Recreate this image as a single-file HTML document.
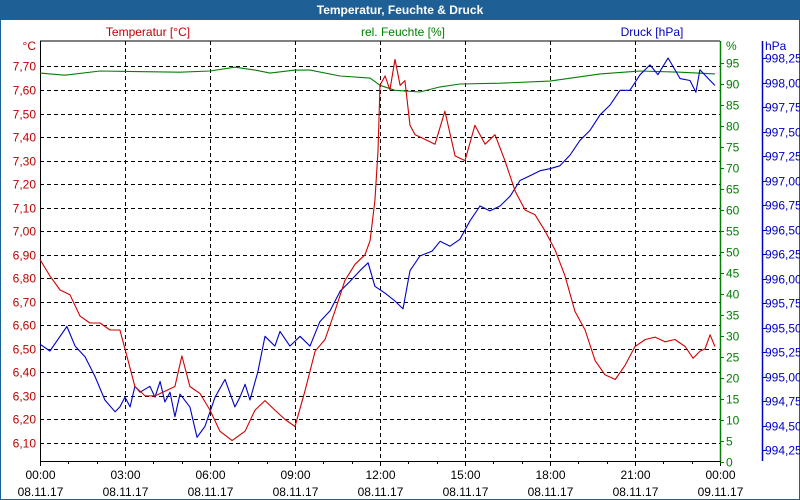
<!DOCTYPE html>
<html><head><meta charset="utf-8"><style>
html,body{margin:0;padding:0;background:#fff}
svg{display:block;font-family:"Liberation Sans",sans-serif}
</style></head><body>
<svg id="chart" width="800" height="500" viewBox="0 0 800 500">
<rect x="0.5" y="0.5" width="799" height="499" fill="#fff" stroke="#1e5f96"/>
<rect x="0" y="0" width="800" height="20" fill="#1e5f96"/>
<text x="400" y="14" text-anchor="middle" fill="#fff" font-weight="bold" font-size="12">Temperatur, Feuchte &amp; Druck</text>
<text x="148" y="36" text-anchor="middle" fill="#c00000" font-size="12">Temperatur [°C]</text>
<text x="403" y="36" text-anchor="middle" fill="#008000" font-size="12">rel. Feuchte [%]</text>
<text x="652" y="36" text-anchor="middle" fill="#0000c0" font-size="12">Druck [hPa]</text>
<g id="grid"></g><g id="axes"></g><g id="series"></g>
</svg>
<script>
const tempHours=[0,.35,.71,1.06,1.41,1.76,2.12,2.47,2.82,3.11,3.35,3.71,4.06,4.41,4.76,5.01,5.29,5.65,6.0,6.35,6.78,7.24,7.59,7.94,8.29,8.65,9.0,9.35,9.71,10.06,10.41,10.76,11.12,11.47,11.65,11.82,11.93,12.0,12.18,12.35,12.53,12.71,12.88,13.06,13.24,13.59,13.94,14.29,14.65,15.0,15.35,15.71,16.06,16.41,16.77,17.12,17.47,17.83,18.18,18.53,18.88,19.24,19.59,19.94,20.3,20.65,21.0,21.36,21.71,22.06,22.41,22.77,23.05,23.29,23.47,23.65,23.82];
const tempValues=[6.88,6.81,6.75,6.73,6.64,6.61,6.61,6.58,6.58,6.45,6.34,6.30,6.30,6.32,6.34,6.47,6.34,6.31,6.24,6.15,6.11,6.15,6.24,6.28,6.24,6.20,6.17,6.32,6.49,6.54,6.66,6.79,6.86,6.90,6.96,7.13,7.34,7.62,7.66,7.60,7.73,7.62,7.64,7.45,7.41,7.39,7.37,7.51,7.32,7.30,7.45,7.37,7.41,7.30,7.17,7.09,7.07,7.00,6.92,6.81,6.66,6.58,6.45,6.39,6.37,6.43,6.51,6.54,6.55,6.53,6.54,6.51,6.46,6.49,6.50,6.56,6.51];
const humHours=[0,.88,2.12,4.94,6.0,6.88,7.59,8.12,9.0,9.53,10.59,11.65,12.0,12.53,13.41,14.12,14.82,16.24,18.0,19.77,21.18,22.59,23.82];
const humValues=[92.6,92.1,93.1,92.8,93.1,94.0,93.3,92.6,93.3,93.3,91.9,91.4,89.7,88.5,88.1,89.3,90.0,90.2,90.7,92.4,93.1,92.8,92.4];
const presHours=[0,.35,.71,.95,1.24,1.59,1.94,2.29,2.65,2.82,3.0,3.18,3.35,3.53,3.88,4.06,4.24,4.41,4.59,4.76,4.94,5.29,5.54,5.82,6.0,6.18,6.53,6.88,7.06,7.24,7.41,7.69,7.94,8.29,8.47,8.82,9.18,9.53,9.88,10.24,10.59,10.94,11.29,11.58,11.82,12.18,12.53,12.81,13.06,13.41,13.84,14.12,14.47,14.82,15.18,15.53,15.88,16.24,16.59,16.94,17.3,17.65,18.0,18.35,18.71,19.06,19.41,19.77,20.12,20.47,20.82,21.18,21.53,21.81,22.17,22.59,22.94,23.15,23.29,23.65,23.82];
const presValues=[995.33,995.26,995.41,995.51,995.31,995.20,995.0,994.76,994.64,994.69,994.79,994.69,994.90,994.84,994.90,994.79,994.95,994.74,994.84,994.59,994.82,994.69,994.38,994.49,994.64,994.79,994.97,994.69,994.79,994.92,994.76,995.05,995.41,995.31,995.46,995.31,995.41,995.31,995.56,995.67,995.87,995.97,996.08,996.16,995.92,995.85,995.77,995.69,996.08,996.23,996.28,996.38,996.33,996.40,996.59,996.74,996.69,996.74,996.84,997.00,997.05,997.10,997.12,997.15,997.26,997.41,997.51,997.67,997.77,997.92,997.92,998.08,998.18,998.08,998.25,998.04,998.02,997.90,998.13,998.02,997.97];
const tempTicks=["6,10","6,20","6,30","6,40","6,50","6,60","6,70","6,80","6,90","7,00","7,10","7,20","7,30","7,40","7,50","7,60","7,70"];
const humTicks=["0","5","10","15","20","25","30","35","40","45","50","55","60","65","70","75","80","85","90","95"];
const presTicks=["994,25","994,50","994,75","995,00","995,25","995,50","995,75","996,00","996,25","996,50","996,75","997,00","997,25","997,50","997,75","998,00","998,25"];
const timeTicks=["00:00","03:00","06:00","09:00","12:00","15:00","18:00","21:00","00:00"];
const dateTicks=["08.11.17","08.11.17","08.11.17","08.11.17","08.11.17","08.11.17","08.11.17","08.11.17","09.11.17"];

const NS="http://www.w3.org/2000/svg";
const L=40,R=720,T=41,B=461;
const xS=h=>L+h*(R-L)/24;
const tS=v=>443-(v-6.10)*(443-66.5)/1.6;
const hS=v=>462-v*(462-63)/95;
const pS=v=>450-(v-994.25)*(450-58)/4;
const num=s=>parseFloat(s.replace(',','.'));
function mk(tag,attrs,parent){const e=document.createElementNS(NS,tag);for(const k in attrs)e.setAttribute(k,attrs[k]);parent.appendChild(e);return e;}
const grid=document.getElementById('grid'),axes=document.getElementById('axes'),series=document.getElementById('series');
mk('line',{x1:L,y1:T,x2:R,y2:T,stroke:'#000'},grid);
tempTicks.forEach(t=>{const y=Math.round(tS(num(t)))+.5;
 const g=mk('line',{x1:L,y1:y,x2:R,y2:y,stroke:'#000','stroke-dasharray':'4,3'},grid);
 
 const tx=mk('text',{x:36,y:y+4,'text-anchor':'end',fill:'#c00000','font-size':12},axes);tx.textContent=t;
 });
const tu=mk('text',{x:36,y:50,'text-anchor':'end',fill:'#c00000','font-size':12},axes);tu.textContent='°C';

timeTicks.forEach((t,i)=>{const x=Math.round(xS(i*3))+.5;
 if(i>0&&i<8){const g=mk('line',{x1:x,y1:T,x2:x,y2:B,stroke:'#000','stroke-dasharray':'4,3'},grid);
 }
 const a=mk('text',{x:x,y:479,'text-anchor':'middle',fill:'#000','font-size':12},axes);a.textContent=t;
 
 const b=mk('text',{x:x,y:496,'text-anchor':'middle',fill:'#000','font-size':12},axes);b.textContent=dateTicks[i];
 });
for(let h=0;h<=24;h++){const x=Math.round(xS(h))+.5;mk('line',{x1:x,y1:B,x2:x,y2:B+(h%3?3:5),stroke:'#000'},axes);}
mk('line',{x1:L+.5,y1:T,x2:L+.5,y2:B,stroke:'#000'},axes);
const xa=mk('line',{x1:L,y1:B+.5,x2:R,y2:B+.5,stroke:'#000'},axes);

const ga=mk('line',{x1:R+.5,y1:T,x2:R+.5,y2:B,stroke:'#008000','stroke-width':1.5},axes);

humTicks.forEach(t=>{const y=Math.round(hS(num(t)))+.5;mk('line',{x1:R,y1:y,x2:R+4,y2:y,stroke:'#008000'},axes);
 const tx=mk('text',{x:726,y:y+4,fill:'#008000','font-size':12},axes);tx.textContent=t;
 });
const hu=mk('text',{x:726,y:50,fill:'#008000','font-size':12},axes);hu.textContent='%';

const pa=mk('line',{x1:762.5,y1:T,x2:762.5,y2:B,stroke:'#0000c0','stroke-width':1.5},axes);

presTicks.forEach(t=>{const y=Math.round(pS(num(t)))+.5;mk('line',{x1:762,y1:y,x2:766,y2:y,stroke:'#0000c0'},axes);
 const tx=mk('text',{x:765,y:y+4,fill:'#0000c0','font-size':12},axes);tx.textContent=t;
 });
const pu=mk('text',{x:765,y:50,fill:'#0000c0','font-size':12},axes);pu.textContent='hPa';

function line(hs,vs,ys,color,name){const d=hs.map((h,i)=>(i?'L':'M')+xS(h).toFixed(1)+','+ys(vs[i]).toFixed(1)).join('');
 const p=mk('path',{d:d,fill:'none',stroke:color,'stroke-width':1.1,'stroke-linejoin':'round'},series);
 }
line(humHours,humValues,hS,'#008000','humidity-line');
line(presHours,presValues,pS,'#0000c8','pressure-line');
line(tempHours,tempValues,tS,'#d00000','temperature-line');
</script>
</body></html>
